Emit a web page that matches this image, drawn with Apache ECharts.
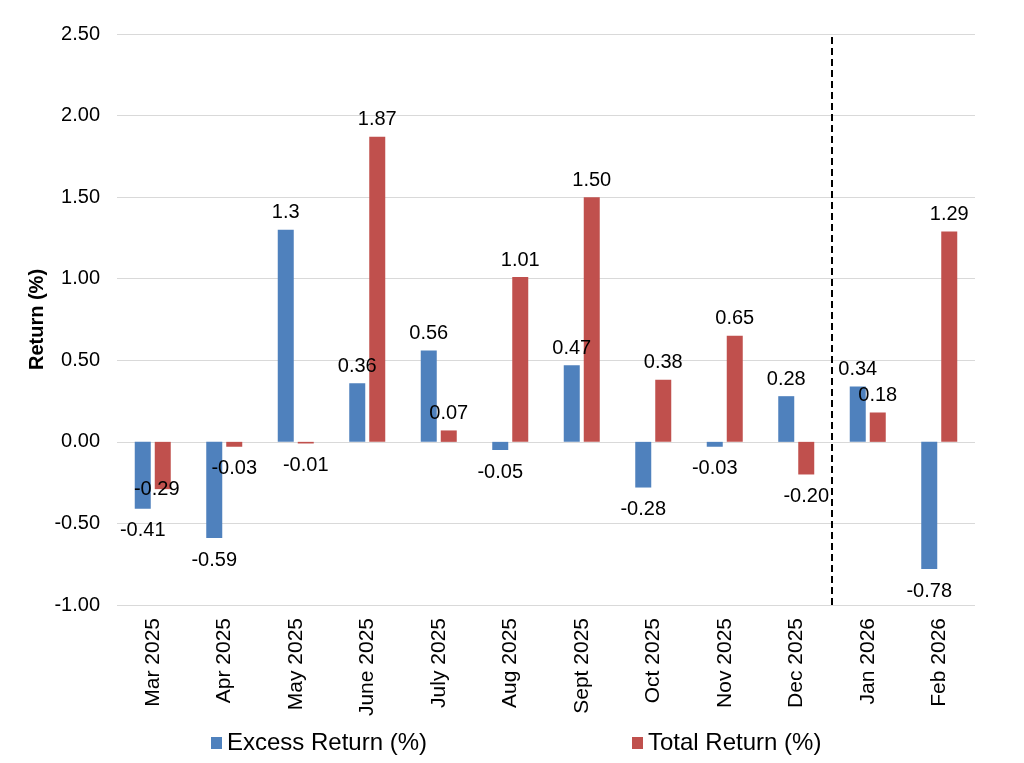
<!DOCTYPE html>
<html><head><meta charset="utf-8">
<script src="https://cdn.jsdelivr.net/npm/echarts@6/dist/echarts.min.js"></script>
<style>html,body{margin:0;padding:0;background:#fff}#c{width:1024px;height:763px}</style>
</head><body><div id="c"></div>
<script>
var categories = ['Mar 2025','Apr 2025','May 2025','June 2025','July 2025','Aug 2025','Sept 2025','Oct 2025','Nov 2025','Dec 2025','Jan 2026','Feb 2026'];
var excessReturn = [-0.41,-0.59,1.3,0.36,0.56,-0.05,0.47,-0.28,-0.03,0.28,0.34,-0.78];
var excessLabels = ['-0.41','-0.59','1.3','0.36','0.56','-0.05','0.47','-0.28','-0.03','0.28','0.34','-0.78'];
var totalReturn = [-0.29,-0.03,-0.01,1.87,0.07,1.01,1.50,0.38,0.65,-0.20,0.18,1.29];
var totalLabels = ['-0.29','-0.03','-0.01','1.87','0.07','1.01','1.50','0.38','0.65','-0.20','0.18','1.29'];
var yTicks = {min:-1, max:2.5, interval:0.5};
var dividerPosition = 10;

var font = 'Liberation Sans, Arial, sans-serif';
function mk(vals, labels, special){
  return vals.map(function(v,i){
    var lab = {position: v<0?'bottom':'top', distance: v<0?12:7, formatter: labels[i]};
    if (special && special[i]) lab.offset = special[i];
    return {value:v, label:lab};
  });
}
var chart = echarts.init(document.getElementById('c'));
chart.setOption({
  animation:false,
  textStyle:{fontFamily:font},
  grid:{left:117,right:49,top:34,bottom:158,containLabel:false},
  legend:[
    {data:['Excess Return (%)'],left:206,top:726,itemWidth:11,itemHeight:12,icon:'rect',itemGap:6,
     textStyle:{fontSize:24,color:'#000',fontFamily:font}},
    {data:['Total Return (%)'],left:627,top:726,itemWidth:11,itemHeight:12,icon:'rect',itemGap:6,
     textStyle:{fontSize:24,color:'#000',fontFamily:font}}
  ],
  xAxis:[{
    type:'category',data:categories,
    axisLine:{show:false,onZero:false},axisTick:{show:false},
    axisLabel:{rotate:90,fontSize:21,color:'#000',margin:13,interval:0}
  },{
    type:'value',min:0,max:categories.length,show:false
  }],
  yAxis:{
    type:'value',min:yTicks.min,max:yTicks.max,interval:yTicks.interval,
    name:'Return (%)',nameLocation:'middle',nameGap:70,nameRotate:90,nameMoveOverlap:false,
    nameTextStyle:{fontSize:20,fontWeight:'bold',color:'#000'},
    axisLine:{show:false},axisTick:{show:false},
    axisLabel:{formatter:function(v){return v.toFixed(2);},fontSize:20,color:'#000',margin:17},
    splitLine:{lineStyle:{color:'#D9D9D9',width:1}}
  },
  series:[
    {name:'Excess Return (%)',type:'bar',data:mk(excessReturn,excessLabels),barWidth:16,barGap:'25%',
     itemStyle:{color:'#4F81BD'},label:{show:true,fontSize:20,color:'#000'}},
    {name:'Total Return (%)',type:'bar',data:mk(totalReturn,totalLabels,{0:[-6,-22]}),barWidth:16,
     itemStyle:{color:'#C0504D'},label:{show:true,fontSize:20,color:'#000'}},
    {name:'divider',type:'line',xAxisIndex:1,data:[],
     markLine:{symbol:'none',silent:true,label:{show:false},
       lineStyle:{color:'#000',type:[7,4],width:2},
       data:[{xAxis:dividerPosition}]}}
  ]
});
</script></body></html>
